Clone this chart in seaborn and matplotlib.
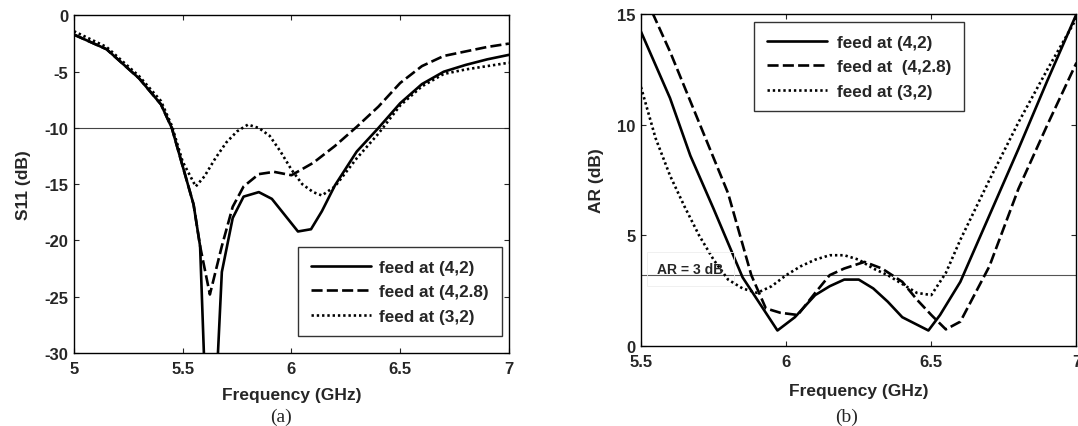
import numpy as np
import pandas as pd
import seaborn as sns
import matplotlib
matplotlib.use("Agg")
import matplotlib.pyplot as plt
from matplotlib.lines import Line2D

# ---------------- data: S11 (left) ----------------
s11_f_a = [5.0, 5.15, 5.3, 5.4, 5.45, 5.5, 5.55, 5.58, 5.625, 5.68, 5.73, 5.78, 5.85, 5.91,
           6.03, 6.09, 6.14, 6.2, 6.3, 6.4, 6.5, 6.6, 6.7, 6.8, 6.9, 7.0]
s11_v_a = [-1.7, -3.0, -5.6, -7.9, -10.0, -13.4, -16.8, -20.5, -45.0, -22.8, -18.0, -16.1, -15.7, -16.3,
           -19.2, -19.0, -17.4, -15.1, -12.1, -10.0, -7.8, -6.1, -5.0, -4.4, -3.9, -3.5]

s11_f_b = [5.0, 5.15, 5.3, 5.4, 5.45, 5.5, 5.55, 5.58, 5.625, 5.68, 5.73, 5.78, 5.85, 5.92,
           6.0, 6.1, 6.2, 6.3, 6.4, 6.5, 6.6, 6.7, 6.8, 6.9, 7.0]
s11_v_b = [-1.7, -3.0, -5.6, -7.9, -10.0, -13.4, -16.8, -20.5, -24.8, -20.5, -17.0, -15.2, -14.1, -13.9,
           -14.2, -13.1, -11.6, -9.9, -8.1, -6.0, -4.5, -3.6, -3.2, -2.8, -2.5]

s11_f_c = [5.0, 5.15, 5.3, 5.4, 5.45, 5.5, 5.56, 5.6, 5.65, 5.7, 5.75, 5.8, 5.85, 5.9, 5.95,
           6.0, 6.05, 6.1, 6.14, 6.2, 6.3, 6.4, 6.5, 6.6, 6.7, 6.8, 6.9, 7.0]
s11_v_c = [-1.4, -2.8, -5.4, -7.6, -9.8, -13.0, -15.2, -14.3, -12.7, -11.3, -10.3, -9.7, -10.0, -10.7, -12.1,
           -13.7, -15.0, -15.7, -16.0, -15.2, -12.7, -10.5, -8.0, -6.3, -5.2, -4.8, -4.5, -4.2]

# ---------------- data: AR (right) ----------------
ar_f_a = [5.5, 5.6, 5.67, 5.75, 5.85, 5.92, 5.97, 6.03, 6.1, 6.15, 6.2, 6.25, 6.3, 6.35, 6.4,
          6.49, 6.53, 6.6, 6.7, 6.8, 6.9, 7.0]
ar_v_a = [14.2, 11.2, 8.6, 6.2, 3.1, 1.7, 0.7, 1.3, 2.3, 2.7, 3.0, 3.0, 2.6, 2.0, 1.3,
          0.7, 1.4, 2.9, 5.9, 8.9, 12.0, 15.0]

ar_f_b = [5.5, 5.6, 5.7, 5.8, 5.88, 5.93, 5.98, 6.04, 6.1, 6.15, 6.2, 6.27, 6.33, 6.4, 6.45,
          6.5, 6.55, 6.6, 6.7, 6.8, 6.9, 7.0]
ar_v_b = [16.2, 13.3, 10.1, 6.9, 3.2, 1.7, 1.5, 1.4, 2.4, 3.2, 3.5, 3.8, 3.5, 2.9, 2.1,
          1.4, 0.75, 1.1, 3.6, 7.1, 10.0, 12.8]

ar_f_c = [5.5, 5.55, 5.6, 5.65, 5.7, 5.75, 5.8, 5.85, 5.9, 5.95, 6.0, 6.05, 6.1, 6.15, 6.2,
          6.25, 6.3, 6.35, 6.4, 6.45, 6.5, 6.55, 6.6, 6.7, 6.8, 6.9, 7.0]
ar_v_c = [11.7, 9.4, 7.7, 6.3, 5.0, 3.9, 3.0, 2.6, 2.4, 2.7, 3.2, 3.6, 3.9, 4.1, 4.1,
          3.9, 3.5, 3.2, 2.8, 2.4, 2.3, 3.3, 4.8, 7.5, 10.1, 12.5, 14.8]

labels_left = ["feed at (4,2)", "feed at (4,2.8)", "feed at (3,2)"]
labels_right = ["feed at (4,2)", "feed at  (4,2.8)", "feed at (3,2)"]
s11_xticks = [5, 5.5, 6, 6.5, 7]
s11_xticklabels = ["5", "5.5", "6", "6.5", "7"]
s11_yticks = [0, -5, -10, -15, -20, -25, -30]
ar_xticks = [5.5, 6, 6.5, 7]
ar_xticklabels = ["5.5", "6", "6.5", "7"]
ar_yticks = [0, 5, 10, 15]
s11_ref = -10
ar_ref = 3.2

# ---------------- style ----------------
sns.set_style("ticks")
plt.rcParams['font.family'] = ['Liberation Sans', 'DejaVu Sans']
plt.rcParams['font.weight'] = 'bold'
plt.rcParams['axes.labelweight'] = 'bold'
plt.rcParams['axes.unicode_minus'] = False
plt.rcParams['xtick.direction'] = 'in'
plt.rcParams['ytick.direction'] = 'in'

LW = 1.9
FS_TICK = 12
FS_LAB = 12.5
FS_LEG = 12.3
dash_map = {"a": "", "b": (4.2, 1.6), "c": (0.9, 1.1)}

fig = plt.figure(figsize=(10.78, 4.27), dpi=100)
axL = fig.add_axes([0.0686, 0.1710, 0.4035, 0.7904])
axR = fig.add_axes([0.5946, 0.1874, 0.4040, 0.7775])


def make_df(fs, vs, keys):
    rows = []
    for f, v, k in zip(fs, vs, keys):
        for i, (xx, yy) in enumerate(zip(f, v)):
            rows.append({"f": xx, "v": yy, "s": k, "i": i})
    return pd.DataFrame(rows)


dfL = make_df([s11_f_a, s11_f_b, s11_f_c], [s11_v_a, s11_v_b, s11_v_c], ["a", "b", "c"])
dfR = make_df([ar_f_a, ar_f_b, ar_f_c], [ar_v_a, ar_v_b, ar_v_c], ["a", "b", "c"])

for ax, df in ((axL, dfL), (axR, dfR)):
    sns.lineplot(data=df, x="f", y="v", style="s", dashes=dash_map, color="black",
                 linewidth=LW, sort=False, estimator=None, units="s", ax=ax, legend=False)

# reference lines
axL.axhline(s11_ref, color="#444444", lw=0.8, zorder=0)
axR.axhline(ar_ref, color="#555555", lw=0.8, zorder=0)

# axes settings
axL.set_xlim(5, 7)
axL.set_ylim(-30, 0)
axL.set_xticks(s11_xticks)
axL.set_xticklabels(s11_xticklabels)
axL.set_yticks(s11_yticks)
axL.set_xlabel("Frequency (GHz)", fontsize=FS_LAB, fontweight="bold", labelpad=8)
axL.set_ylabel("S11 (dB)", fontsize=FS_LAB, fontweight="bold", labelpad=10)

axR.set_xlim(5.5, 7)
axR.set_ylim(0, 15)
axR.set_xticks(ar_xticks)
axR.set_xticklabels(ar_xticklabels)
axR.set_yticks(ar_yticks)
axR.set_xlabel("Frequency (GHz)", fontsize=FS_LAB, fontweight="bold", labelpad=10)
axR.set_ylabel("AR (dB)", fontsize=FS_LAB, fontweight="bold", labelpad=9)

for ax in (axL, axR):
    for sp in ax.spines.values():
        sp.set_visible(True)
        sp.set_linewidth(1.0)
        sp.set_color("black")
    ax.tick_params(axis="both", which="both", direction="in", top=True, right=True,
                   labelsize=FS_TICK, length=3.5, width=0.8)
    ax.tick_params(axis="x", pad=6)
    ax.tick_params(axis="y", pad=4)
    for t in ax.get_xticklabels() + ax.get_yticklabels():
        t.set_fontweight("bold")


def legend_handles():
    return [Line2D([0], [0], color="black", lw=LW, linestyle="-"),
            Line2D([0], [0], color="black", lw=LW, linestyle=(0, dash_map["b"])),
            Line2D([0], [0], color="black", lw=LW, linestyle=(0, dash_map["c"]))]


legL = axL.legend(legend_handles(), labels_left, loc="upper left",
                  bbox_to_anchor=(298 / 1078, 1 - 248 / 427), bbox_transform=fig.transFigure,
                  borderaxespad=0, fontsize=FS_LEG, frameon=True, fancybox=False,
                  edgecolor="black", handlelength=3.5, borderpad=0.75, labelspacing=0.55,
                  handletextpad=0.5)
legL.get_frame().set_linewidth(1.0)
for t in legL.get_texts():
    t.set_fontweight("bold")

legR = axR.legend(legend_handles(), labels_right, loc="upper left",
                  bbox_to_anchor=(754 / 1078, 1 - 23 / 427), bbox_transform=fig.transFigure,
                  borderaxespad=0, fontsize=FS_LEG, frameon=True, fancybox=False,
                  edgecolor="black", handlelength=3.5, borderpad=0.75, labelspacing=0.55,
                  handletextpad=0.6)
legR.get_frame().set_linewidth(1.0)
for t in legR.get_texts():
    t.set_fontweight("bold")

axR.text(5.555, 3.48, "AR = 3 dB", fontsize=10, fontweight="bold", ha="left", va="center",
         bbox=dict(boxstyle="square,pad=0.75", fc="none", ec="#eeeeee", lw=0.6))

# captions
fig.text(281 / 1078, 1 - 417 / 427, "(a)", fontsize=14, family=["Liberation Serif", "DejaVu Serif"],
         fontweight="normal", ha="center", va="center")
fig.text(847 / 1078, 1 - 417 / 427, "(b)", fontsize=14, family=["Liberation Serif", "DejaVu Serif"],
         fontweight="normal", ha="center", va="center")

fig.savefig("out.png", dpi=100)
